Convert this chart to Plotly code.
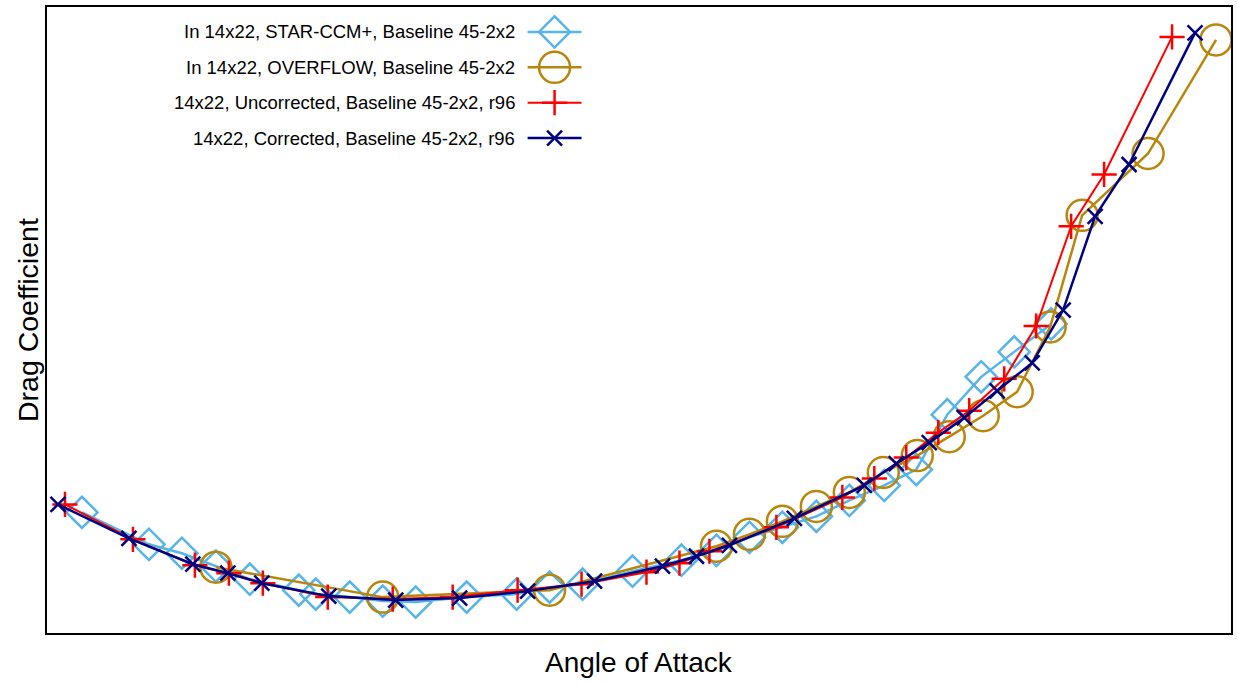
import plotly.graph_objects as go

# Values (arbitrary units; the axes carry no tick labels)
star_x = [35, 102, 135, 169, 203, 252, 269, 303, 336, 369, 420, 470, 503, 536, 586, 635, 670, 703, 736, 770, 803, 838, 870, 901, 935, 968, 1005]
star_y = [121, 89, 80, 67, 54, 43, 39, 36, 32, 31, 36, 39, 46, 49, 62, 73, 83, 96, 106, 117, 133, 148, 164, 219, 257, 282, 310]

ovf_x = [169, 336, 503, 670, 703, 736, 770, 803, 837, 871, 903, 937, 971, 1004, 1036, 1102, 1170]
ovf_y = [66, 36, 43, 87, 99, 112, 127, 141, 161, 178, 197, 218, 242, 307, 419, 481, 595]

unc_x = [18, 86, 148, 182, 216, 281, 346, 406, 471, 535, 600, 633, 663, 730, 796, 828, 860, 892, 923, 958, 990, 1025, 1058, 1126]
unc_y = [129, 94, 68, 60, 50, 36, 34, 36, 43, 49, 61, 70, 82, 106, 136, 155, 176, 201, 223, 255, 308, 408, 460, 598]

cor_x = [11, 82, 146, 181, 215, 282, 349, 413, 481, 548, 616, 650, 683, 748, 818, 850, 883, 918, 951, 986, 1017, 1049, 1083, 1149]
cor_y = [129, 95, 69, 60, 50, 37, 33, 35, 42, 52, 67, 77, 88, 115, 148, 170, 191, 216, 243, 271, 324, 418, 470, 602]

labels = [
    "In 14x22, STAR-CCM+, Baseline 45-2x2",
    "In 14x22, OVERFLOW, Baseline 45-2x2",
    "14x22, Uncorrected, Baseline 45-2x2, r96",
    "14x22, Corrected, Baseline 45-2x2, r96",
]
colors = ["#56B4E9", "#B8860B", "#FF0000", "#000080"]
symbols = ["diamond-open", "circle-open", "cross-thin-open", "x-thin-open"]
msizes = [24, 31, 18, 15]
lwidths = [2.5, 2.5, 2, 2.5]

series = [(star_x, star_y), (ovf_x, ovf_y), (unc_x, unc_y), (cor_x, cor_y)]

fig = go.Figure()
for (xs, ys), name, c, s, ms, lw in zip(series, labels, colors, symbols, msizes, lwidths):
    fig.add_trace(go.Scatter(
        x=xs, y=ys, name=name, mode="lines+markers",
        line=dict(color=c, width=lw),
        marker=dict(symbol=s, size=ms, color=c, line=dict(color=c, width=2.5)),
        showlegend=False,
    ))

# Custom legend (text on the left, sample on the right) drawn on an overlay axis
W, H = 1238, 683
L, R, T, B = 47, 6, 5, 50
pw, ph = W - L - R, H - T - B
row_y = [30, 65.5, 101, 136.5]
for i, (name, c, s, ms, lw) in enumerate(zip(labels, colors, symbols, msizes, lwidths)):
    yy = row_y[i]
    fig.add_trace(go.Scatter(
        x=[528, 582], y=[yy, yy], mode="lines", xaxis="x2", yaxis="y2",
        line=dict(color=c, width=lw), showlegend=False, hoverinfo="skip",
    ))
    fig.add_trace(go.Scatter(
        x=[555], y=[yy], mode="markers", xaxis="x2", yaxis="y2",
        marker=dict(symbol=s, size=ms, color=c, line=dict(color=c, width=2.5)),
        showlegend=False, hoverinfo="skip",
    ))
    fig.add_annotation(
        x=517, y=yy, xref="x2", yref="y2", text=name, showarrow=False,
        xanchor="right", yanchor="middle",
        font=dict(family="Liberation Sans, Arial", size=18.5, color="#000000"),
    )

fig.add_annotation(
    x=0.5, y=-(663 - 633) / ph, xref="paper", yref="paper", text="Angle of Attack",
    showarrow=False, xanchor="center", yanchor="middle",
    font=dict(family="Liberation Sans, Arial", size=28, color="#000000"),
)
fig.add_annotation(
    x=(28 - L) / pw, y=0.5, xref="paper", yref="paper", text="Drag Coefficient",
    showarrow=False, xanchor="center", yanchor="middle", textangle=-90,
    font=dict(family="Liberation Sans, Arial", size=28.5, color="#000000"),
)

axis_common = dict(showticklabels=False, ticks="", showgrid=False, zeroline=False)
fig.update_layout(
    width=W, height=H,
    margin=dict(l=L, r=R, t=T, b=B, pad=0),
    paper_bgcolor="white", plot_bgcolor="white",
    xaxis=dict(range=[0, 1185], showline=True, linecolor="black", linewidth=2, mirror=True, **axis_common),
    yaxis=dict(range=[0, 628], showline=True, linecolor="black", linewidth=2, mirror=True, **axis_common),
    xaxis2=dict(range=[L, W - R], overlaying="x", showline=False, visible=False, **axis_common),
    yaxis2=dict(range=[T + ph, T], overlaying="y", showline=False, visible=False, **axis_common),
    showlegend=False,
)

fig.write_html(
    "out.html",
    config={"displayModeBar": False},
    post_script="document.body.style.margin='0';document.body.style.padding='0';document.body.style.overflow='hidden';",
)
